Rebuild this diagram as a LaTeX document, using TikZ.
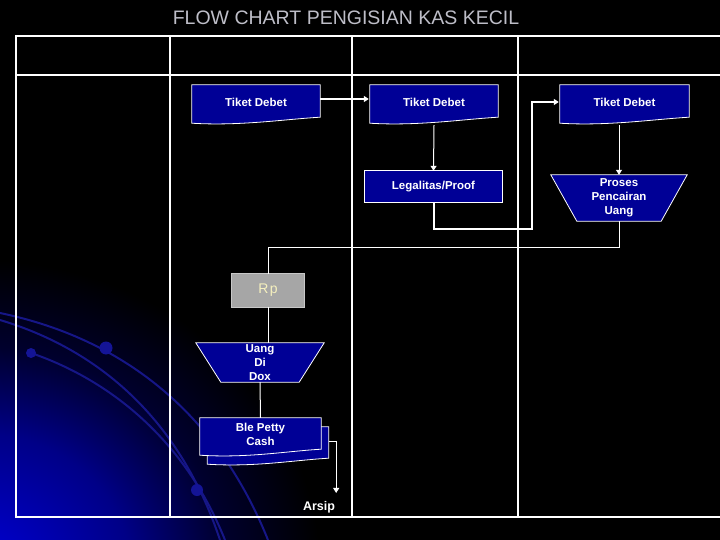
\documentclass[tikz,border=0pt]{standalone}
\usepackage{fontspec}
\setmainfont{Liberation Sans}
\usetikzlibrary{arrows.meta,calc}
\definecolor{navy}{RGB}{0,0,150}
\definecolor{glowA}{RGB}{0,0,215}
\definecolor{glowB}{RGB}{0,0,135}
\definecolor{glowC}{RGB}{0,0,45}
\definecolor{arcblue}{RGB}{22,22,135}
\definecolor{dotblue}{RGB}{20,20,150}
\definecolor{titlegray}{RGB}{190,190,200}
\definecolor{rpgray}{RGB}{166,166,166}
\definecolor{rpedge}{RGB}{200,200,200}
\definecolor{rptext}{RGB}{245,240,190}
\pgfdeclareradialshading{glow}{\pgfpoint{0bp}{0bp}}{color(0bp)=(glowA); color(11bp)=(glowB); color(18bp)=(glowC); color(25bp)=(black); color(50bp)=(black)}
\pgfdeclarelayer{bg}
\pgfdeclarelayer{shp}
\pgfsetlayers{bg,shp,main}
\newcommand\docshape[4][]{%
  \filldraw[shapest,#1] ([shift={(#3,#4)}]#2.north west) -- ([shift={(#3,#4)}]#2.north east)
   -- ([shift={(#3,#4-2)}]#2.south east)
   .. controls ([shift={(#3-35,#4)}]#2.south east) and ([shift={(#3+48,#4+7)}]#2.south west)
   .. ([shift={(#3,#4+4)}]#2.south west) -- cycle;}
\newcommand\trapshape[2]{%
  \filldraw[shapest] (#1.north west) -- (#1.north east) -- ([shift={(-#2,0)}]#1.south east)
   -- ([shift={(#2,0)}]#1.south west) -- cycle;}
\begin{document}
\begin{tikzpicture}[x=1pt,y=-1pt,
  shapest/.style={fill=navy,draw=white,line width=0.8pt},
  box/.style={rectangle,inner sep=0pt,align=center,text=white,
    font=\fontsize{11.5}{14}\selectfont\bfseries},
  tbl/.style={draw=white,line width=1.3pt},
  thin/.style={draw=white,line width=1pt},
  thk/.style={draw=white,line width=2pt},
  tip/.style={-{Triangle[length=5pt,width=6pt]}},
  arcline/.style={draw=arcblue,line width=2pt}]
\useasboundingbox (0,0) rectangle (720,540);
\begin{pgfonlayer}{bg}
\fill[black] (0,0) rectangle (720,540);
\begin{scope}
\clip (0,0) rectangle (720,540);
\shade[shading=glow] (-20,570) ellipse [x radius=340pt, y radius=310pt];
\draw[arcline] (0,313) .. controls (130,340) and (220,420) .. (268,540);
\draw[arcline] (0,320) .. controls (100,350) and (180,420) .. (220,540);
\draw[arcline] (31,353) .. controls (110,380) and (185,440) .. (225,540);
\fill[dotblue] (106,348) circle [radius=6.5pt];
\fill[dotblue] (197,490) circle [radius=6pt];
\fill[dotblue] (31,353) circle [radius=5pt];
\end{scope}
\end{pgfonlayer}

% title
\node[text=titlegray,font=\fontsize{19.5}{22}\selectfont] (title) at (346,18) {FLOW CHART PENGISIAN KAS KECIL};

% table
\draw[tbl] (720,36) -- (16,36) -- (16,517) -- (720,517);
\draw[tbl] (16,75) -- (720,75);
\draw[tbl] (170,36) -- (170,517);
\draw[tbl] (352,36) -- (352,517);
\draw[tbl] (518,36) -- (518,517);

% nodes
\node[box,minimum width=128pt,minimum height=34pt] (td1) at (256,102) {Tiket Debet};
\node[box,minimum width=128pt,minimum height=34pt] (td2) at (434,102) {Tiket Debet};
\node[box,minimum width=129pt,minimum height=34pt] (td3) at (624.5,102) {Tiket Debet};
\node[box,minimum width=137pt,minimum height=31pt] (leg) at (433.5,186.5) {Legalitas/Proof};
\node[box,minimum width=136pt,minimum height=46pt] (pro) at (619,198) {Proses\\Pencairan\\Uang};
\node[box,minimum width=72pt,minimum height=33pt,text=rptext,
  font=\fontsize{14}{16}\selectfont] (rp) at (268,290.5) {R\kern1.5pt p};
\node[box,minimum width=128pt,minimum height=39pt] (uang) at (260,362.5) {Uang\\Di\\Dox};
\node[box,minimum width=121pt,minimum height=33pt] (bpc) at (260.5,434.5) {Ble Petty\\Cash};
\node[box,font=\fontsize{12.5}{14}\selectfont\bfseries,inner sep=2pt] (arsip) at (319,507) {Arsip};

% shapes
\begin{pgfonlayer}{shp}
\docshape{td1}{0}{0}
\docshape{td2}{0}{0}
\docshape{td3}{0}{0}
\filldraw[shapest] (leg.north west) rectangle (leg.south east);
\trapshape{pro}{26}
\filldraw[fill=rpgray,draw=rpedge,line width=0.8pt] (rp.north west) rectangle (rp.south east);
\trapshape{uang}{25}
\docshape{bpc}{7.5}{9}
\docshape{bpc}{0}{0}
\end{pgfonlayer}

% connectors
\coordinate (bpcback) at ([shift={(7.5,6.5)}]bpc.east);
\coordinate (j1) at (532,229);
\draw[thk,tip] ([shift={(0,-3)}]td1.east) -- ([shift={(-1,-3)}]td2.west);
\draw[thin,tip] ([shift={(0,6)}]td2.south) -- (leg.north);
\draw[thk,tip] (leg.south) |- (j1) |- ([shift={(-1,0)}]td3.west);
\draw[thin,tip] ([shift={(0,6)}]td3.south -| pro.north) -- (pro.north);
\draw[thin] (pro.south) -- ++(0,26) -| (rp.north);
\draw[thin] (rp.south) -- (rp.south |- uang.north);
\draw[thin] (uang.south) -- (bpc.north);
\draw[thin,tip] (bpcback) -| ([shift={(-1,-6)}]arsip.north east);
\end{tikzpicture}
\end{document}
